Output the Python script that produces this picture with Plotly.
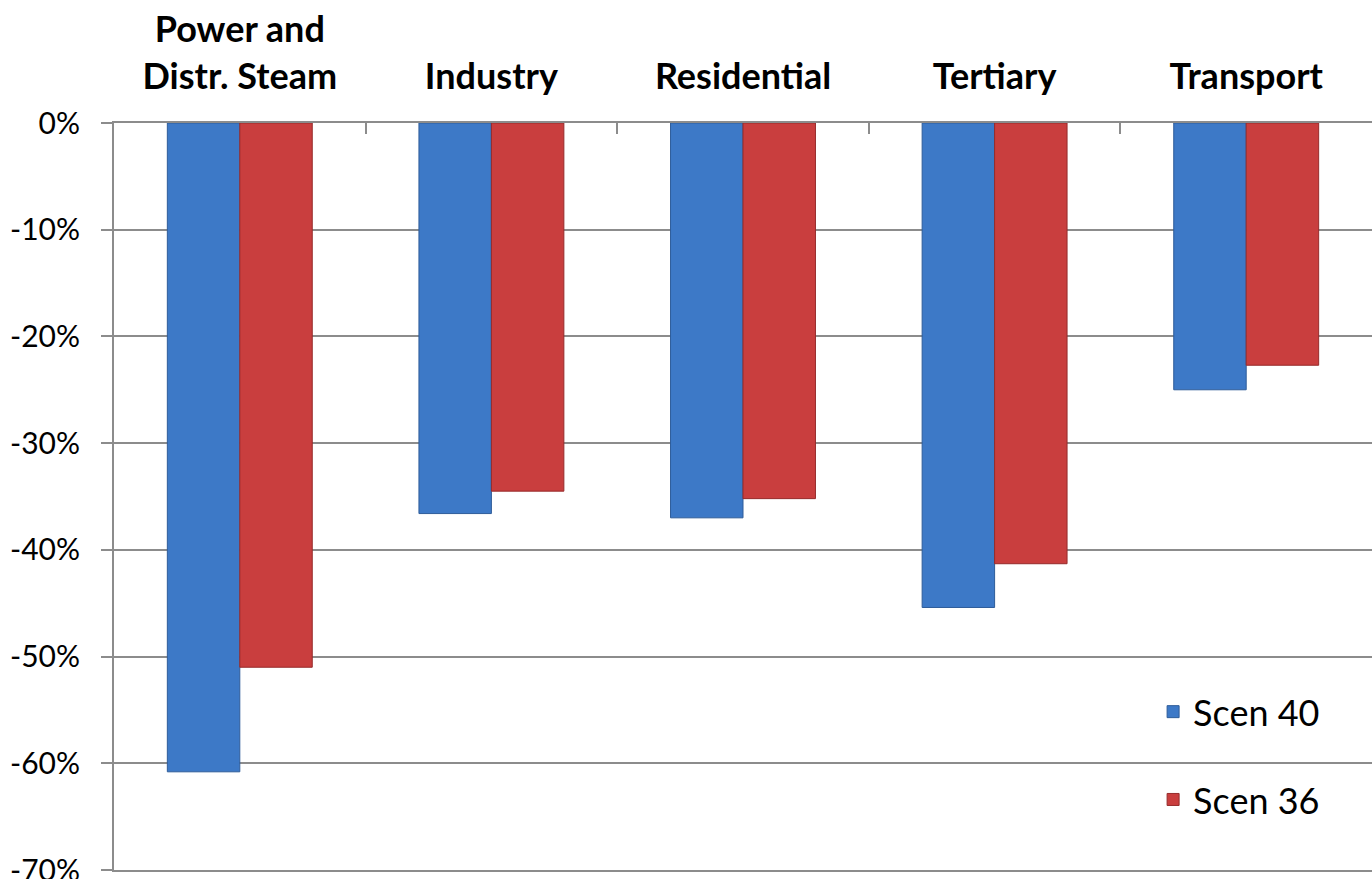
import plotly.graph_objects as go

categories = ["Power and<br>Distr. Steam", "Industry", "Residential", "Tertiary", "Transport"]
scen40 = [-60.8, -36.6, -37.0, -45.4, -25.0]
scen36 = [-51.0, -34.5, -35.2, -41.3, -22.7]
tick_vals = [0, -10, -20, -30, -40, -50, -60, -70]
tick_text = ["0%", "-10%", "-20%", "-30%", "-40%", "-50%", "-60%", "-70%"]

FONT = "Lato"

fig = go.Figure()
fig.add_trace(go.Bar(
    x=categories, y=scen40, name="Scen 40", legendgroup="a",
    marker=dict(color="#3D79C7", line=dict(color="#2E5C99", width=1)),
))
fig.add_trace(go.Bar(
    x=categories, y=scen36, name="Scen 36", legendgroup="b",
    marker=dict(color="#C93E3E", line=dict(color="#962B2B", width=1)),
))

fig.update_layout(
    width=1372, height=879,
    margin=dict(l=114, r=0, t=123, b=9),
    paper_bgcolor="white", plot_bgcolor="white",
    barmode="group", bargap=0.424, bargroupgap=0,
    font=dict(family=FONT, color="black"),
    legend=dict(
        x=0.826, xanchor="left", y=0.252, yanchor="top",
        font=dict(size=36, family=FONT, color="black"),
        tracegroupgap=38, bgcolor="rgba(0,0,0,0)",
    ),
    xaxis=dict(
        side="top", showgrid=False, showline=True, mirror=True,
        linecolor="#8c8c8c", linewidth=2, automargin=False,
        ticks="inside", tickson="boundaries", ticklen=11, tickcolor="#8c8c8c", tickwidth=1.5,
        tickfont=dict(size=36, family=FONT, color="black", weight="bold"),
        ticklabelstandoff=18,
    ),
    yaxis=dict(
        range=[-70, 0], tickvals=tick_vals, ticktext=tick_text,
        showgrid=True, gridcolor="#8c8c8c", gridwidth=1.5,
        showline=True, linecolor="#8c8c8c", linewidth=2, zeroline=False,
        ticks="outside", ticklen=11, tickcolor="#8c8c8c", tickwidth=1.5,
        tickfont=dict(size=30, family=FONT, color="black"),
        ticklabelstandoff=15, ticklabeloverflow="allow", automargin=False,
    ),
)

fig.write_html("out.html")
